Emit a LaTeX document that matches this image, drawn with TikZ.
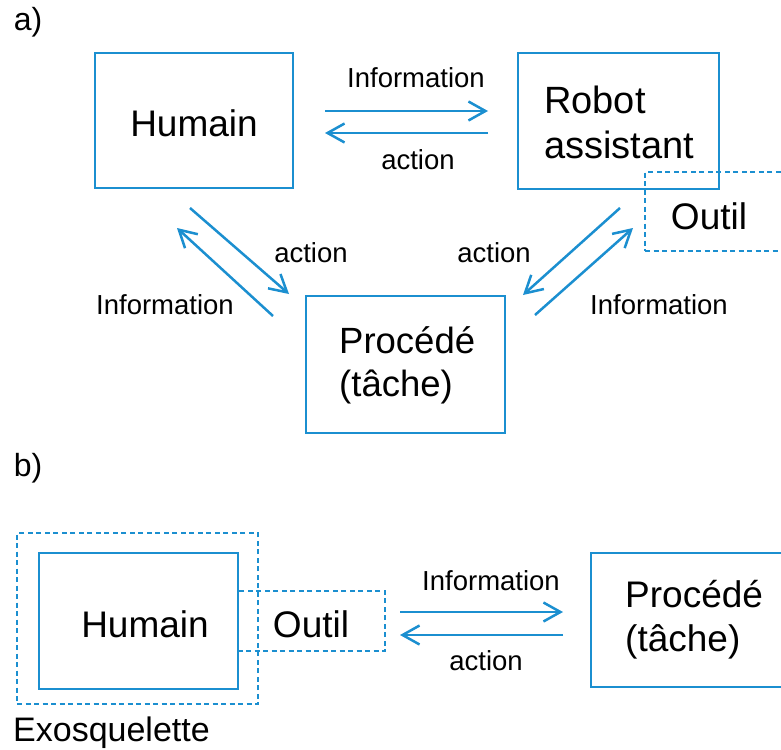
\documentclass[tikz,border=0pt]{standalone}
\usepackage{fontspec}
\setmainfont{Liberation Sans}
\usetikzlibrary{arrows.meta}
\definecolor{cblue}{RGB}{27,143,208}
\tikzset{
  box/.style={draw=cblue, line width=2.8pt, inner sep=0pt},
  dbox/.style={draw=cblue, line width=2.6pt, dash pattern=on 5pt off 3.5pt, inner sep=0pt},
  big/.style={font=\fontsize{37}{45}\selectfont, inner sep=0pt},
  small/.style={font=\fontsize{27.5}{32}\selectfont, inner sep=0pt},
  arr/.style={draw=cblue, line width=2.5pt, -{Straight Barb[length=17pt,width=19pt,line width=2.5pt]}},
}
\begin{document}
\begin{tikzpicture}[x=1pt,y=-1pt]
\clip (0,0) rectangle (781,749);
\fill[white] (0,0) rectangle (781,749);
% part a
\node[small, font=\fontsize{32}{36}\selectfont] (la) at (28,22) {a)};
\node[box, minimum width=198pt, minimum height=135pt] (hum) at (194,120.5) {};
\node[big] (humt) at (194,123) {Humain};
\node[box, minimum width=201pt, minimum height=136pt] (rob) at (618.5,121) {};
\node[big, align=left, anchor=west, font=\fontsize{38}{45}\selectfont] (robt) at (544,122) {Robot\\assistant};
\node[dbox, minimum width=160pt, minimum height=79pt] (out) at (725,211.5) {};
\node[big] (outt) at (709,216) {Outil};
\node[box, minimum width=199pt, minimum height=137pt] (proc) at (405.5,364.5) {};
\node[big, align=left, anchor=west, font=\fontsize{36.5}{43}\selectfont] (proct) at (339,365) {Procédé\\(tâche)};
% arrows a
\coordinate (a1s) at (325,111); \coordinate (a1e) at (488,111);
\coordinate (a2s) at (488,133); \coordinate (a2e) at (325,133);
\draw[arr] (a1s) -- (a1e);
\draw[arr] (a2s) -- (a2e);
\node[small] (t1) at (416,78) {Information};
\node[small] (t2) at (418,160) {action};
\coordinate (b1s) at (190,208); \coordinate (b1e) at (289,294);
\coordinate (b2s) at (273,316); \coordinate (b2e) at (177,228);
\draw[arr] (b1s) -- (b1e);
\draw[arr] (b2s) -- (b2e);
\node[small] (t3) at (311,253) {action};
\node[small] (t4) at (165,305) {Information};
\coordinate (c1s) at (620,208); \coordinate (c1e) at (523,295);
\coordinate (c2s) at (535,315); \coordinate (c2e) at (633,228);
\draw[arr] (c1s) -- (c1e);
\draw[arr] (c2s) -- (c2e);
\node[small] (t5) at (494,253) {action};
\node[small] (t6) at (659,305) {Information};
% part b
\node[small, font=\fontsize{32}{36}\selectfont] (lb) at (28,468) {b)};
\node[dbox, minimum width=241pt, minimum height=171pt] (exo) at (137.5,618.5) {};
\node[box, minimum width=199pt, minimum height=136pt] (hum2) at (138.5,621) {};
\node[big] (hum2t) at (145,624) {Humain};
\draw[dbox] (238,591) rectangle (385,651);
\node[big] (out2t) at (311,624) {Outil};
\node[big, font=\fontsize{34}{40}\selectfont, anchor=west] (exot) at (13,733) {Exosquelette};
\node[box, minimum width=220pt, minimum height=134pt] (proc2) at (701,620) {};
\node[big, align=left, anchor=west, font=\fontsize{37}{44}\selectfont] (proc2t) at (625,620) {Procédé\\(tâche)};
\coordinate (d1s) at (400,612); \coordinate (d1e) at (563,612);
\coordinate (d2s) at (563,635); \coordinate (d2e) at (400,635);
\draw[arr] (d1s) -- (d1e);
\draw[arr] (d2s) -- (d2e);
\node[small] (t7) at (491,581) {Information};
\node[small] (t8) at (486,661) {action};
\end{tikzpicture}
\end{document}
